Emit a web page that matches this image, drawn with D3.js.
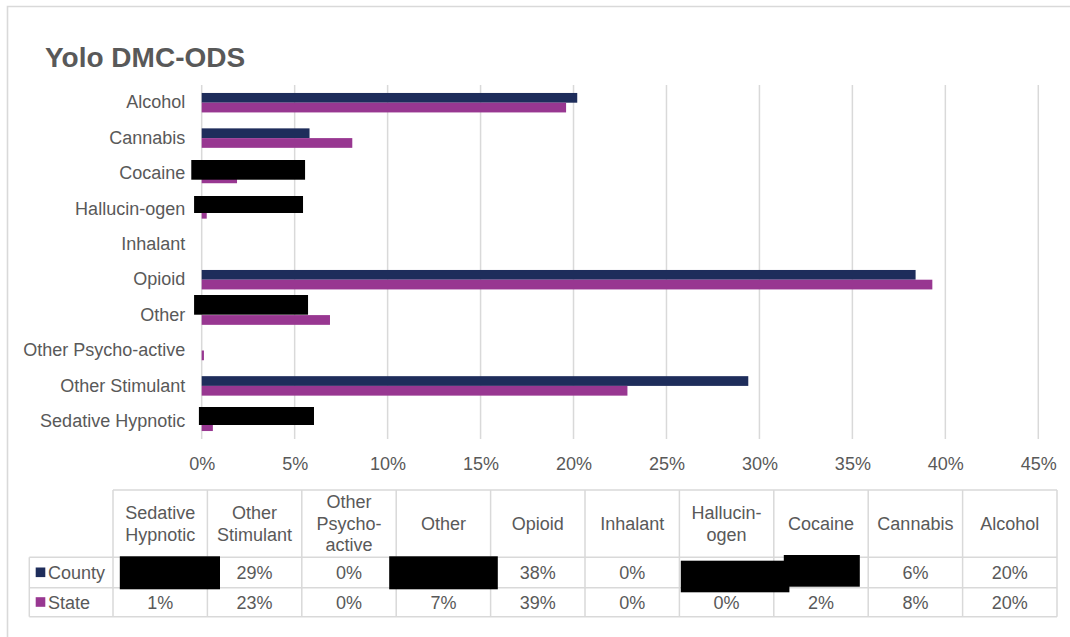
<!DOCTYPE html>
<html>
<head>
<meta charset="utf-8">
<script src="https://cdn.jsdelivr.net/npm/d3@7"></script>
<style>
  html, body { margin: 0; padding: 0; background: #ffffff; }
  svg { display: block; font-family: "Liberation Sans", Arial, sans-serif; }
</style>
</head>
<body>
<svg id="chart" width="1070" height="637"></svg>
<script>
// ---- data ----
const categories = ["Alcohol", "Cannabis", "Cocaine", "Hallucin-ogen", "Inhalant",
  "Opioid", "Other", "Other Psycho-active", "Other Stimulant", "Sedative Hypnotic"];
// percentages; null = suppressed county value
const countyValues = [20.2, 5.8, null, null, 0, 38.4, null, 0, 29.4, null];
const stateValues  = [19.6, 8.1, 1.9, 0.27, 0, 39.3, 6.9, 0.12, 22.9, 0.6];
const seriesNames = ["County", "State"];
const xTicks = [0, 5, 10, 15, 20, 25, 30, 35, 40, 45];
// table header lines, in table (reversed) order
const tableHeaders = {
  "Sedative Hypnotic": ["Sedative", "Hypnotic"],
  "Other Stimulant": ["Other", "Stimulant"],
  "Other Psycho-active": ["Other", "Psycho-", "active"],
  "Other": ["Other"],
  "Opioid": ["Opioid"],
  "Inhalant": ["Inhalant"],
  "Hallucin-ogen": ["Hallucin-", "ogen"],
  "Cocaine": ["Cocaine"],
  "Cannabis": ["Cannabis"],
  "Alcohol": ["Alcohol"]
};
const suppressed = ["Cocaine", "Hallucin-ogen", "Other", "Sedative Hypnotic"];

// ---- styling ----
const colors = { County: "#1e2d5b", State: "#983791" };
const textColor = "#595959";
const gridColor = "#d9d9d9";

const svg = d3.select("#chart");

// frame
svg.append("path")
  .attr("d", "M7.5,640 L7.5,6.5 L1075,6.5")
  .attr("fill", "none").attr("stroke", gridColor).attr("stroke-width", 1.6);

// title
svg.append("text")
  .attr("x", 45).attr("y", 67)
  .attr("font-size", 28).attr("font-weight", "bold")
  .attr("fill", textColor)
  .text("Yolo DMC-ODS");

// ---- scales ----
const plot = { left: 201.7, right: 1038.3, top: 85, bottom: 439 };
const x = d3.scaleLinear().domain([0, 45]).range([plot.left, plot.right]);
const y = d3.scaleBand().domain(categories).range([plot.top, plot.bottom])
  .paddingInner(0.45).paddingOuter(0.225);
const ySub = d3.scaleBand().domain(seriesNames).range([0, y.bandwidth()]);

// gridlines
svg.append("g").selectAll("line").data(xTicks).join("line")
  .attr("x1", d => x(d)).attr("x2", d => x(d))
  .attr("y1", plot.top).attr("y2", plot.bottom)
  .attr("stroke", gridColor).attr("stroke-width", 1.5);

// x axis labels
const xAxis = d3.axisBottom(x).tickValues(xTicks).tickFormat(d => d + "%").tickSize(0).tickPadding(0);
const xg = svg.append("g").attr("transform", `translate(0,${plot.bottom + 31})`).call(xAxis);
xg.select(".domain").remove();
xg.selectAll("text").attr("font-size", 18).attr("fill", textColor)
  .attr("font-family", "Liberation Sans, Arial, sans-serif").attr("dy", 0);

// y axis labels
const yAxis = d3.axisLeft(y).tickSize(0).tickPadding(0);
const yg = svg.append("g").attr("transform", `translate(${plot.left - 16.5},0)`).call(yAxis);
yg.select(".domain").remove();
yg.selectAll("text").attr("font-size", 18).attr("fill", textColor)
  .attr("font-family", "Liberation Sans, Arial, sans-serif");

// bars
const rows = categories.map((c, i) => ({ cat: c, County: countyValues[i], State: stateValues[i] }));
const groups = svg.append("g").selectAll("g").data(rows).join("g")
  .attr("transform", d => `translate(0,${y(d.cat)})`);
groups.selectAll("rect")
  .data(d => seriesNames.map(s => ({ s, v: d[s] })).filter(e => e.v !== null && e.v > 0))
  .join("rect")
  .attr("x", x(0))
  .attr("y", e => ySub(e.s))
  .attr("width", e => x(e.v) - x(0))
  .attr("height", ySub.bandwidth())
  .attr("fill", e => colors[e.s]);

// suppression boxes over the hidden county bars (axis units, offsets from band start)
const chartRedactions = [
  { cat: "Cocaine", x0: -0.56, x1: 5.56, y0: 4.2, y1: 23.9 },
  { cat: "Hallucin-ogen", x0: -0.41, x1: 5.45, y0: 4.8, y1: 21.8 },
  { cat: "Other", x0: -0.41, x1: 5.72, y0: -2.4, y1: 17.3 },
  { cat: "Sedative Hypnotic", x0: -0.15, x1: 6.04, y0: 3.4, y1: 21.4 }
];
svg.append("g").selectAll("rect").data(chartRedactions).join("rect")
  .attr("x", d => x(d.x0)).attr("width", d => x(d.x1) - x(d.x0))
  .attr("y", d => y.step() * categories.indexOf(d.cat) + plot.top + d.y0)
  .attr("height", d => d.y1 - d.y0)
  .attr("fill", "#000");

// ---- data table ----
const tableCats = categories.slice().reverse();
const tbl = { left: 29.3, colStart: 113, right: 1057, top: 490, headBottom: 557.3, rowMid: 587.7, bottom: 616.7 };
const col = d3.scaleBand().domain(tableCats).range([tbl.colStart, tbl.right]);
const fmt = d3.format(".0%");

const tg = svg.append("g");
const lineStyle = sel => sel.attr("stroke", gridColor).attr("stroke-width", 1.5);
// horizontal rules
[[tbl.colStart, tbl.top], [tbl.left, tbl.headBottom], [tbl.left, tbl.rowMid], [tbl.left, tbl.bottom]]
  .forEach(([x0, yy]) => tg.append("line").attr("x1", x0).attr("x2", tbl.right)
    .attr("y1", yy).attr("y2", yy).call(lineStyle));
// vertical rules
tg.append("line").attr("x1", tbl.left).attr("x2", tbl.left)
  .attr("y1", tbl.headBottom).attr("y2", tbl.bottom).call(lineStyle);
tg.selectAll("line.v").data(tableCats.map(c => col(c)).concat([tbl.right])).join("line")
  .attr("class", "v")
  .attr("x1", d => d).attr("x2", d => d)
  .attr("y1", tbl.top).attr("y2", tbl.bottom).call(lineStyle);

// header text
const headMid = (tbl.top + tbl.headBottom) / 2;
const lineH = 21.5;
tableCats.forEach(c => {
  const lines = tableHeaders[c];
  const t = tg.append("text")
    .attr("x", col(c) + col.bandwidth() / 2)
    .attr("text-anchor", "middle")
    .attr("font-size", 18).attr("fill", textColor);
  lines.forEach((ln, i) => {
    t.append("tspan")
      .attr("x", col(c) + col.bandwidth() / 2)
      .attr("y", headMid + (i - (lines.length - 1) / 2) * lineH)
      .attr("dy", "0.35em")
      .text(ln);
  });
});

// series rows
const rowY = { County: (tbl.headBottom + tbl.rowMid) / 2, State: (tbl.rowMid + tbl.bottom) / 2 };
const seriesVals = { County: countyValues, State: stateValues };
seriesNames.forEach(s => {
  tg.append("rect").attr("x", 35.7).attr("y", rowY[s] - 5).attr("width", 9.6).attr("height", 9.6)
    .attr("fill", colors[s]);
  tg.append("text").attr("x", 48).attr("y", rowY[s]).attr("dy", "0.35em")
    .attr("font-size", 18).attr("fill", textColor).text(s);
  categories.forEach((c, i) => {
    const v = seriesVals[s][i];
    if (v === null) return;
    tg.append("text")
      .attr("x", col(c) + col.bandwidth() / 2).attr("y", rowY[s]).attr("dy", "0.35em")
      .attr("text-anchor", "middle").attr("font-size", 18).attr("fill", textColor)
      .text(fmt(v / 100));
  });
});

// suppression boxes over hidden county cells (offsets from cell corner)
const tableRedactions = [
  { cat: "Sedative Hypnotic", dx0: 6.8, dx1: 107, dy0: -1, dy1: 32 },
  { cat: "Other", dx0: -7, dx1: 101.6, dy0: -1, dy1: 32 },
  { cat: "Hallucin-ogen", dx0: 1.4, dx1: 110, dy0: 3.4, dy1: 35 },
  { cat: "Cocaine", dx0: 10, dx1: 86, dy0: -2.3, dy1: 29.4 }
];
tg.selectAll("rect.redact").data(tableRedactions).join("rect")
  .attr("class", "redact")
  .attr("x", d => col(d.cat) + d.dx0).attr("width", d => d.dx1 - d.dx0)
  .attr("y", d => tbl.headBottom + d.dy0).attr("height", d => d.dy1 - d.dy0)
  .attr("fill", "#000");
</script>
</body>
</html>
